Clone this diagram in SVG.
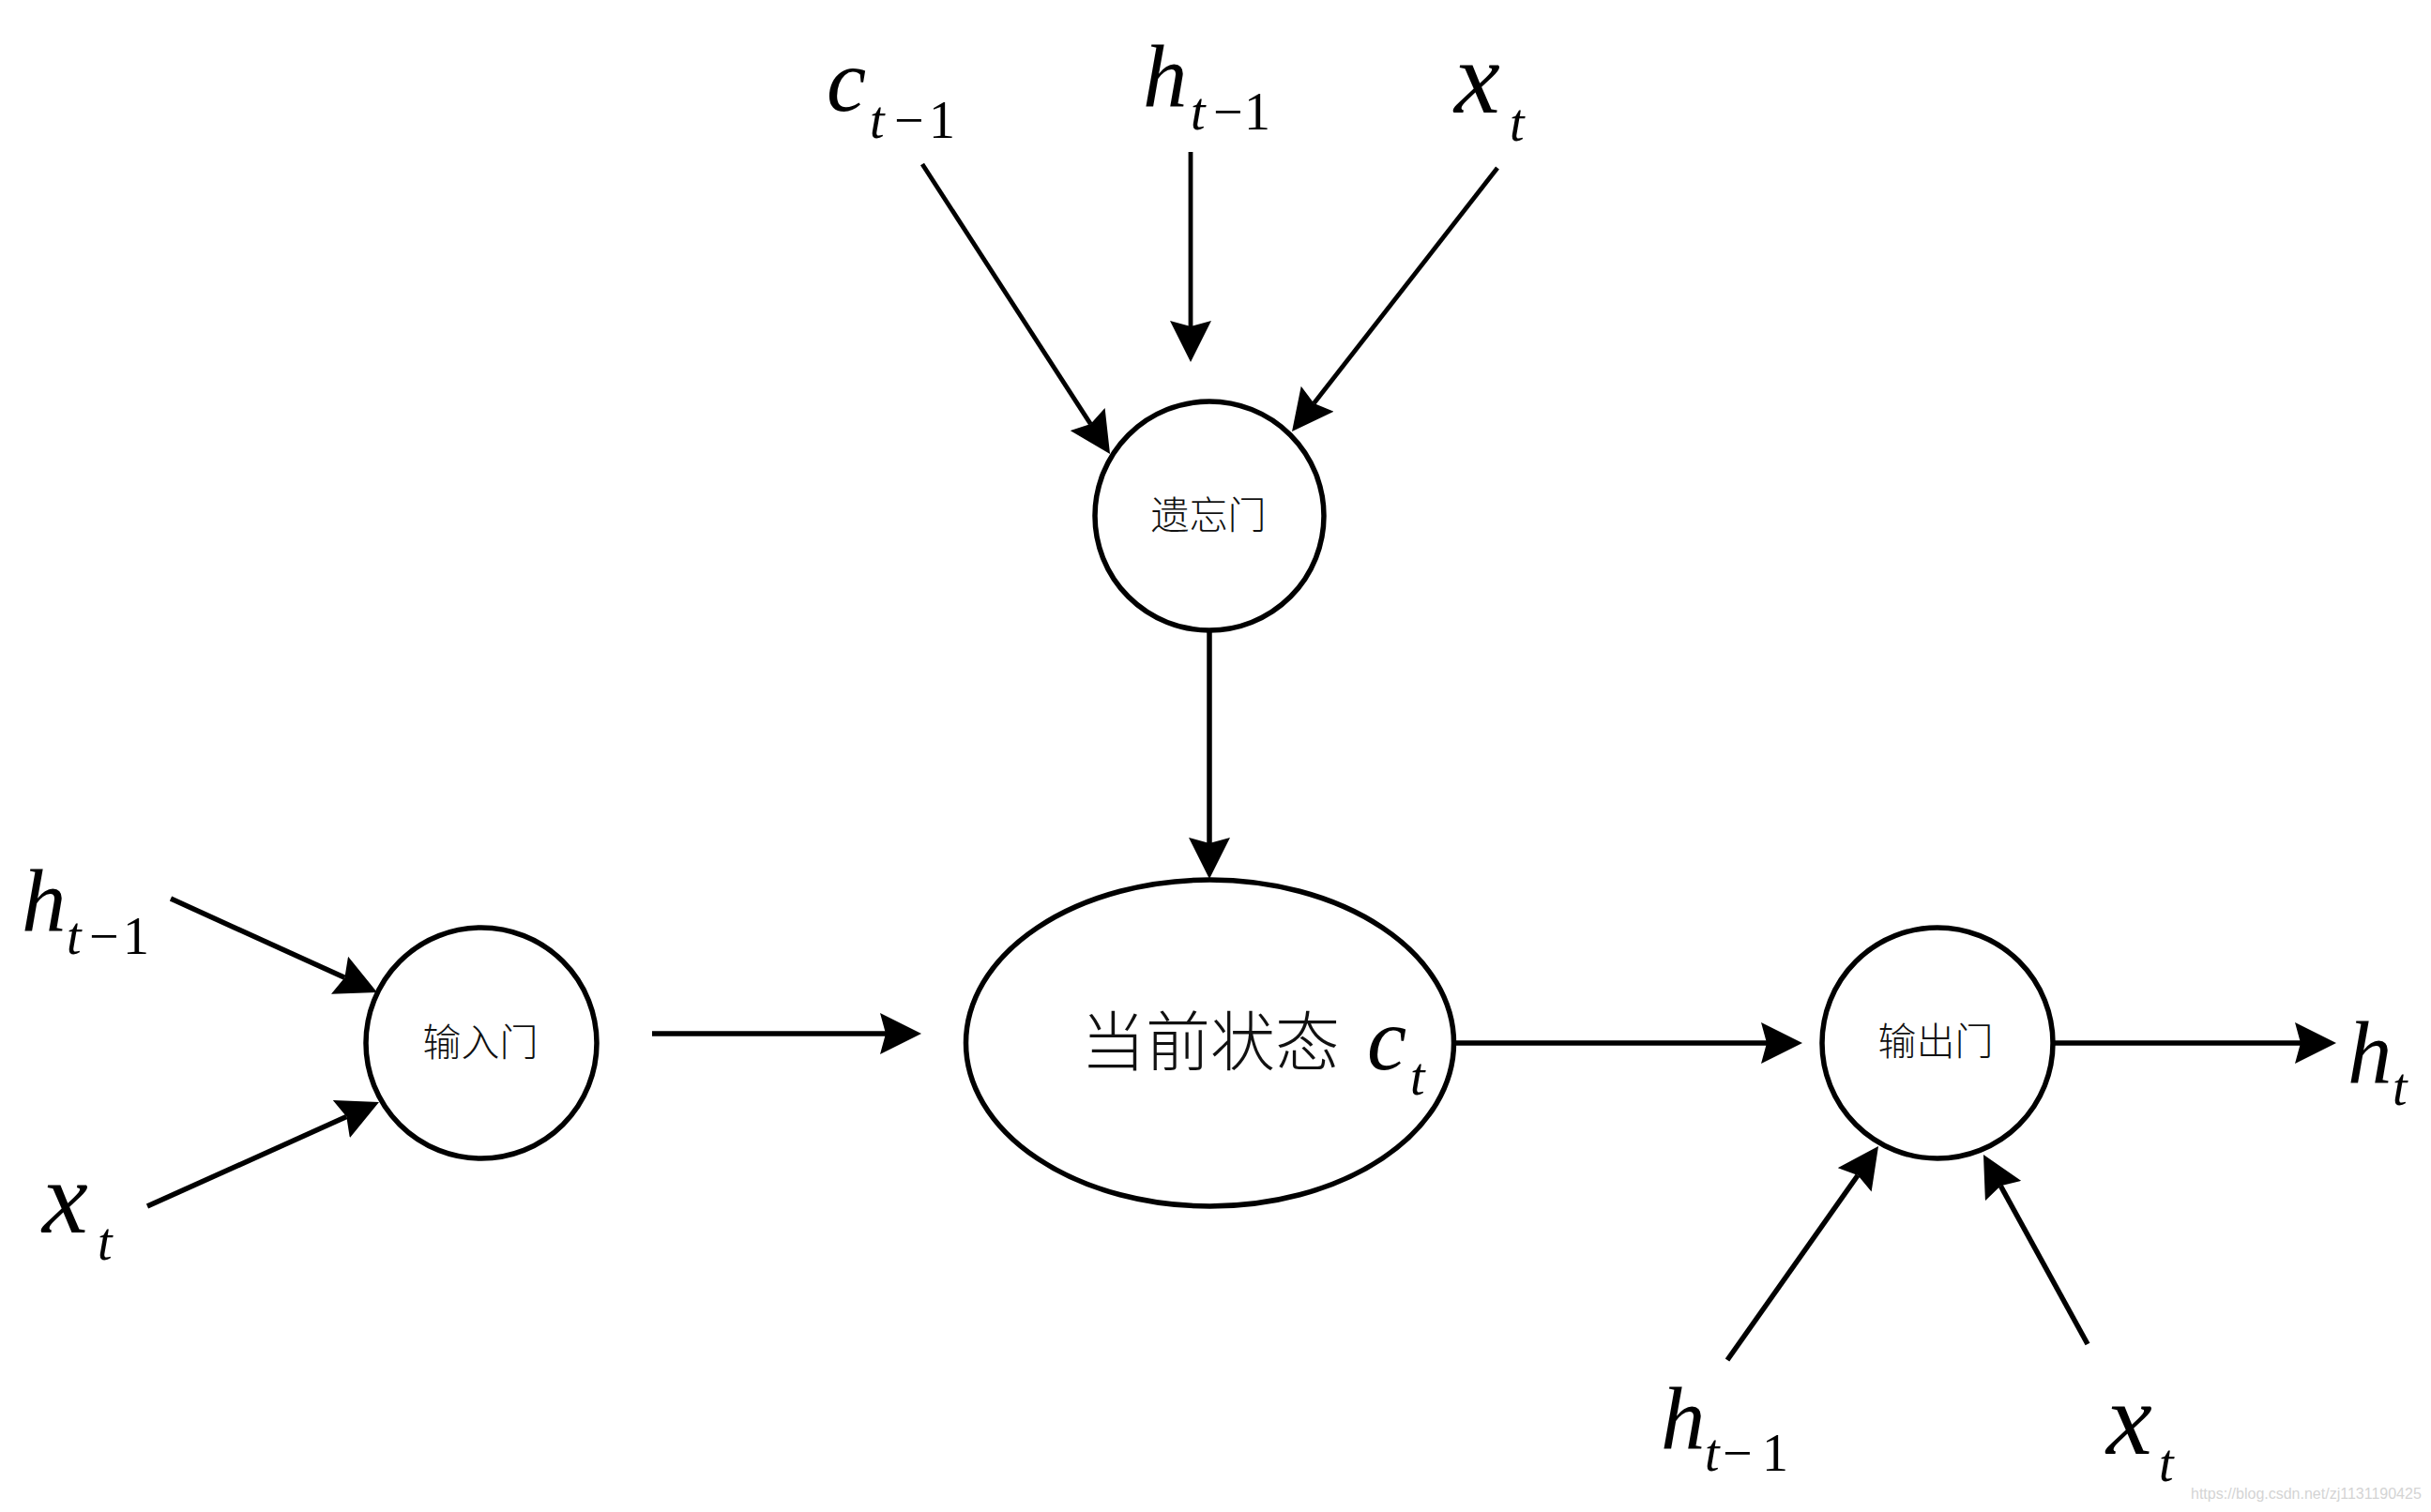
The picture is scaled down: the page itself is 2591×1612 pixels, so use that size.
<svg xmlns="http://www.w3.org/2000/svg" width="2591" height="1612" viewBox="0 0 2591 1612">
<style>
.node{fill:#fff;stroke:#000;stroke-width:5.5}
.conn{stroke:#000;stroke-width:5.5;fill:none;marker-end:url(#ah)}
.thin{stroke-width:4.8}
.m{font-family:"Liberation Serif","Times New Roman",serif;font-style:italic;fill:#000}
.up{font-style:normal}
.cjk{font-family:"Noto Sans CJK SC","Noto Sans CJK JP",sans-serif;font-weight:300;fill:#111;text-anchor:middle}
.wm{font-family:"Liberation Sans",Arial,sans-serif;fill:#d4d4d4}
</style>
<defs>
<marker id="ah" markerUnits="userSpaceOnUse" markerWidth="44" markerHeight="44" refX="6" refY="22" orient="auto">
<path d="M44,22 L0,0 L6,22 L0,44 Z" fill="#000"/>
</marker>
</defs>
<rect width="2591" height="1612" fill="#fff"/>
<g id="connectors">
<line class="conn thin" x1="983" y1="175" x2="1162.4" y2="452.1"/>
<line class="conn thin" x1="1269" y1="162" x2="1269" y2="348"/>
<line class="conn thin" x1="1596" y1="179" x2="1400.4" y2="430"/>
<line class="conn" x1="1289" y1="672" x2="1289" y2="899"/>
<line class="conn" x1="182" y1="958" x2="367.4" y2="1042.3"/>
<line class="conn" x1="157" y1="1286" x2="369.3" y2="1190.6"/>
<line class="conn" x1="695" y1="1102" x2="944" y2="1102"/>
<line class="conn" x1="1550" y1="1112" x2="1883" y2="1112"/>
<line class="conn" x1="2190" y1="1112" x2="2452" y2="1112"/>
<line class="conn" x1="1841" y1="1450" x2="1980.1" y2="1253"/>
<line class="conn" x1="2225" y1="1433" x2="2132.3" y2="1264.3"/>
</g>
<g id="forget-gate">
<circle class="node" cx="1289" cy="550" r="122"/>
<text class="cjk" x="1288" y="564" font-size="41">遗忘门</text>
</g>
<g id="input-gate">
<circle class="node" cx="513" cy="1112" r="123"/>
<text class="cjk" x="512" y="1126" font-size="41">输入门</text>
</g>
<g id="current-state">
<ellipse class="node" cx="1289.5" cy="1112" rx="260" ry="174"/>
<text class="cjk" x="1290" y="1136" font-size="69">当前状态</text>
<text class="m" x="1457" y="1140" font-size="95">c</text>
<text class="m" x="1503" y="1167" font-size="56">t</text>
</g>
<g id="output-gate">
<circle class="node" cx="2065" cy="1112" r="123"/>
<text class="cjk" x="2063" y="1125" font-size="41">输出门</text>
</g>
<g id="label-top-c">
<text class="m" x="881" y="118" font-size="95">c</text>
<text class="m" x="927" y="147" font-size="56">t</text>
<text class="m up" x="953" y="147" font-size="56">−</text>
<text class="m up" x="990" y="147" font-size="56">1</text>
</g>
<g id="label-top-h">
<text class="m" x="1218" y="114" font-size="95">h</text>
<text class="m" x="1269" y="138" font-size="56">t</text>
<text class="m up" x="1293" y="138" font-size="56">−</text>
<text class="m up" x="1326" y="138" font-size="56">1</text>
</g>
<g id="label-top-x">
<text class="m" x="1550" y="120" font-size="110">x</text>
<text class="m" x="1609" y="150" font-size="56">t</text>
</g>
<g id="label-left-h">
<text class="m" x="23" y="993" font-size="95">h</text>
<text class="m" x="71" y="1017" font-size="56">t</text>
<text class="m up" x="95" y="1017" font-size="56">−</text>
<text class="m up" x="131" y="1017" font-size="56">1</text>
</g>
<g id="label-left-x">
<text class="m" x="45" y="1314" font-size="110">x</text>
<text class="m" x="104" y="1343" font-size="56">t</text>
</g>
<g id="label-bottom-h">
<text class="m" x="1770" y="1545" font-size="95">h</text>
<text class="m" x="1817" y="1568" font-size="56">t</text>
<text class="m up" x="1836" y="1568" font-size="56">−</text>
<text class="m up" x="1878" y="1568" font-size="56">1</text>
</g>
<g id="label-bottom-x">
<text class="m" x="2245" y="1550" font-size="110">x</text>
<text class="m" x="2301" y="1579" font-size="56">t</text>
</g>
<g id="label-output-h">
<text class="m" x="2502" y="1155" font-size="95">h</text>
<text class="m" x="2550" y="1178" font-size="56">t</text>
</g>
<text class="wm" x="2335" y="1598" font-size="16">https://blog.csdn.net/zj1131190425</text>
</svg>
